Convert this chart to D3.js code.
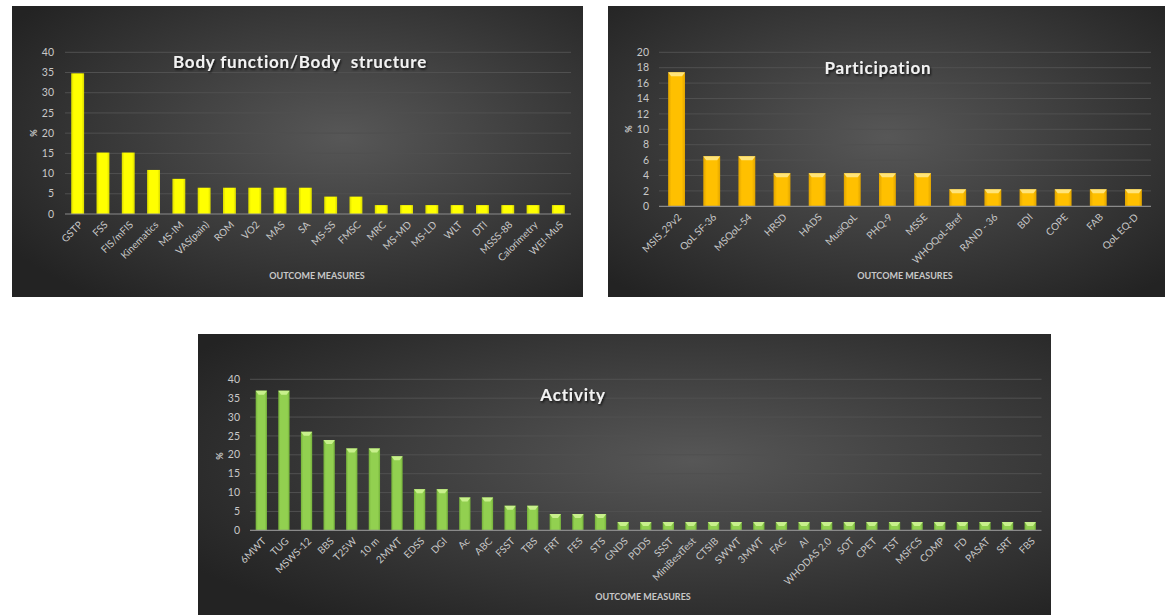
<!DOCTYPE html>
<html><head><meta charset="utf-8">
<script src="https://cdn.jsdelivr.net/npm/d3@7"></script>
<style>body{margin:0;background:#fff}svg{display:block}</style></head>
<body>
<svg id="c" width="1165" height="615"></svg>
<script>
// ---------- DATA ----------
const bodyCategories = ["GSTP","FSS","FIS/mFIS","Kinematics","MS-IM","VAS(pain)","ROM","VO2","MAS","SA","MS-SS","FMSC","MRC","MS-MD","MS-LD","WLT","DTI","MSSS-88","Calorimetry","WEI-MuS"];
const bodyValues = [34.8,15.2,15.2,10.9,8.7,6.5,6.5,6.5,6.5,6.5,4.3,4.3,2.2,2.2,2.2,2.2,2.2,2.2,2.2,2.2];
const bodyTicks = [0,5,10,15,20,25,30,35,40];

const participationCategories = ["MSIS_29v2","QoL SF-36","MSQoL-54","HRSD","HADS","MusiQoL","PHQ-9","MSSE","WHOQoL-Bref","RAND - 36","BDI","COPE","FAB","QoL EQ-D"];
const participationValues = [17.4,6.5,6.5,4.3,4.3,4.3,4.3,4.3,2.2,2.2,2.2,2.2,2.2,2.2];
const participationTicks = [0,2,4,6,8,10,12,14,16,18,20];

const activityCategories = ["6MWT","TUG","MSWS-12","BBS","T25W","10 m","2MWT","EDSS","DGI","Ac","ABC","FSST","TBS","FRT","FES","STS","GNDS","PDDS","SSST","MiniBestTest","CTSIB","SWWT","3MWT","FAC","AI","WHODAS 2.0","SOT","CPET","TST","MSFCS","COMP","FD","PASAT","SRT","FBS"];
const activityValues = [37.0,37.0,26.1,23.9,21.7,21.7,19.6,10.9,10.9,8.7,8.7,6.5,6.5,4.3,4.3,4.3,2.2,2.2,2.2,2.2,2.2,2.2,2.2,2.2,2.2,2.2,2.2,2.2,2.2,2.2,2.2,2.2,2.2,2.2,2.2];
const activityTicks = [0,5,10,15,20,25,30,35,40];

const titles = ["Body function/Body  structure","Participation","Activity"];
const xTitle = "OUTCOME MEASURES";
const yTitle = "%";

// ---------- DRAW ----------
const FONT = "Lato, 'Open Sans', sans-serif";
const svg = d3.select("#c");
const defs = svg.append("defs");

function bgGrad(id, cx, cy){
  const g = defs.append("radialGradient").attr("id", id)
    .attr("cx", cx).attr("cy", cy).attr("r", "70%");
  g.append("stop").attr("offset","0%").attr("stop-color","#575757");
  g.append("stop").attr("offset","100%").attr("stop-color","#232323");
}
bgGrad("bg1","58%","45%");
bgGrad("bg2","50%","45%");
bgGrad("bg3","58%","45%");

function barGrad(id, edge, mid){
  const g = defs.append("linearGradient").attr("id", id).attr("x1","0").attr("x2","1").attr("y1","0").attr("y2","0");
  g.append("stop").attr("offset","0%").attr("stop-color",edge);
  g.append("stop").attr("offset","20%").attr("stop-color",mid);
  g.append("stop").attr("offset","80%").attr("stop-color",mid);
  g.append("stop").attr("offset","100%").attr("stop-color",edge);
}
barGrad("gy","#d8d800","#ffff00");
barGrad("go","#e0a400","#ffc000");
barGrad("gg","#74b03a","#92d050");

const sh = defs.append("filter").attr("id","ts").attr("x","-10%").attr("y","-30%").attr("width","120%").attr("height","160%");
sh.append("feDropShadow").attr("dx",1).attr("dy",1.5).attr("stdDeviation",1).attr("flood-color","#000").attr("flood-opacity",0.8);

const panels = [
  {cats: bodyCategories, vals: bodyValues, ticks: bodyTicks, max: 40, title: titles[0],
   box:[12,6,571,291], px:[65,571], py:[214,52.3], titlePos:[300,62], yl:[34,133], xl:[317,276], ytx:54,
   bg:"bg1", fill:"gy", cap:null, pad:0.49, titleSize:17},
  {cats: participationCategories, vals: participationValues, ticks: participationTicks, max: 20, title: titles[1],
   box:[608,6,557,291], px:[659,1151], py:[206.3,52.3], titlePos:[878,68], yl:[629,129], xl:[905,276], ytx:649,
   bg:"bg2", fill:"go", cap:"#ffe47a", pad:0.52, titleSize:17},
  {cats: activityCategories, vals: activityValues, ticks: activityTicks, max: 40, title: titles[2],
   box:[198,334,853,281], px:[250,1041.5], py:[530.3,379.3], titlePos:[573,395], yl:[220,456], xl:[643,597], ytx:240,
   bg:"bg3", fill:"gg", cap:"#c8f08c", pad:0.5, titleSize:17}
];

panels.forEach(p => {
  const g = svg.append("g");
  g.append("rect").attr("x",p.box[0]).attr("y",p.box[1]).attr("width",p.box[2]).attr("height",p.box[3])
    .attr("fill",`url(#${p.bg})`);

  const x = d3.scaleBand().domain(p.cats).range(p.px).paddingInner(p.pad).paddingOuter(p.pad/2);
  const y = d3.scaleLinear().domain([0,p.max]).range(p.py);

  g.selectAll(".grid").data(p.ticks.filter(t=>t>0)).join("line")
    .attr("x1",p.px[0]).attr("x2",p.px[1]).attr("y1",d=>y(d)).attr("y2",d=>y(d))
    .attr("stroke","#505050").attr("stroke-width",1);

  g.selectAll(".yt").data(p.ticks).join("text")
    .attr("x",p.ytx).attr("y",d=>y(d)).attr("dy","0.35em").attr("text-anchor","end")
    .attr("font-family",FONT).attr("font-size",10.5).attr("fill","#c8c8c8").text(d=>d);

  const bars = g.selectAll(".bar").data(p.vals).join("g");
  bars.append("rect")
    .attr("x",(d,i)=>x(p.cats[i])).attr("width",x.bandwidth())
    .attr("y",d=>y(d)).attr("height",d=>y(0)-y(d))
    .attr("fill",`url(#${p.fill})`);
  if (p.cap){
    bars.append("path").attr("d",(d,i)=>{
      const x0 = x(p.cats[i]), w = x.bandwidth(), t = y(d), h = Math.min(4, (y(0)-y(d))/2);
      return `M${x0},${t}L${x0+w},${t}L${x0+w-3},${t+h}L${x0+3},${t+h}Z`;
    }).attr("fill",p.cap);
  }

  g.append("line").attr("x1",p.px[0]).attr("x2",p.px[1]).attr("y1",y(0)).attr("y2",y(0))
    .attr("stroke","#8a8a8a").attr("stroke-width",1.2);

  g.selectAll(".xt").data(p.cats).join("text")
    .attr("transform",d=>`translate(${x(d)+x.bandwidth()/2+3},${y(0)+9}) rotate(-45)`)
    .attr("text-anchor","end").attr("dy","0.35em")
    .attr("font-family",FONT).attr("font-size",10).attr("fill","#c8c8c8").text(d=>d);

  g.append("text").attr("x",p.titlePos[0]).attr("y",p.titlePos[1]).attr("dy","0.35em")
    .attr("text-anchor","middle").attr("font-family",FONT).attr("font-weight","bold")
    .attr("font-size",p.titleSize).attr("letter-spacing","0.8px").attr("fill","#f2f2f2")
    .attr("filter","url(#ts)").style("white-space","pre").text(p.title);

  g.append("text").attr("x",p.xl[0]).attr("y",p.xl[1]).attr("dy","0.35em")
    .attr("text-anchor","middle").attr("font-family",FONT).attr("font-weight","bold")
    .attr("font-size",9).attr("fill","#c8c8c8").text(xTitle);

  g.append("text").attr("transform",`translate(${p.yl[0]},${p.yl[1]}) rotate(-90)`).attr("dy","0.35em")
    .attr("text-anchor","middle").attr("font-family",FONT).attr("font-weight","bold")
    .attr("font-size",9).attr("fill","#c8c8c8").text(yTitle);
});
</script>
</body></html>
